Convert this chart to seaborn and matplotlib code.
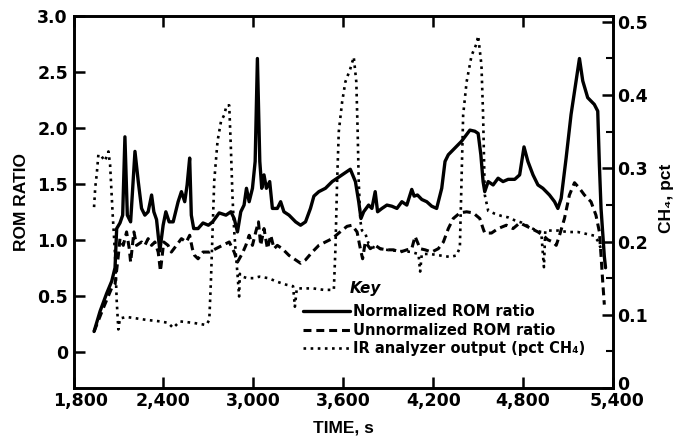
import matplotlib
matplotlib.use("Agg")
import matplotlib.pyplot as plt
import matplotlib.transforms as mtransforms
import seaborn as sns
import pandas as pd

# ---------------- data ----------------
norm_t = [1937, 1977, 2021, 2055, 2077, 2088, 2110, 2128, 2143, 2159, 2181, 2210, 2232, 2254,
          2276, 2298, 2321, 2336, 2354, 2376, 2398, 2416, 2438, 2465, 2498, 2520, 2542, 2558,
          2575, 2586, 2602, 2631, 2664, 2700, 2728, 2772, 2817, 2850, 2872, 2894, 2916, 2938,
          2954, 2972, 2994, 3012, 3027, 3043, 3056, 3071, 3087, 3109, 3127, 3160, 3182, 3204,
          3238, 3282, 3315, 3348, 3381, 3404, 3437, 3481, 3526, 3570, 3614, 3647, 3681, 3703,
          3718, 3736, 3769, 3791, 3813, 3829, 3858, 3891, 3924, 3958, 3991, 4024, 4057, 4073,
          4095, 4124, 4157, 4190, 4223, 4257, 4279, 4301, 4345, 4389, 4445, 4478, 4500, 4518,
          4533, 4544, 4567, 4600, 4633, 4666, 4700, 4744, 4777, 4806, 4832, 4866, 4899, 4932,
          4976, 5010, 5032, 5054, 5087, 5120, 5154, 5176, 5198, 5231, 5275, 5298, 5309, 5320,
          5331, 5342, 5350]
norm_v = [0.18, 0.36, 0.52, 0.63, 0.75, 1.10, 1.15, 1.22, 1.92, 1.22, 1.16, 1.79, 1.52, 1.28,
          1.22, 1.25, 1.40, 1.25, 1.18, 0.90, 1.13, 1.25, 1.16, 1.16, 1.34, 1.43, 1.34, 1.49,
          1.73, 1.22, 1.10, 1.10, 1.15, 1.13, 1.16, 1.24, 1.22, 1.25, 1.19, 1.07, 1.25, 1.31,
          1.46, 1.34, 1.46, 1.70, 2.62, 1.70, 1.46, 1.58, 1.46, 1.52, 1.28, 1.28, 1.34, 1.25,
          1.22, 1.16, 1.13, 1.16, 1.28, 1.39, 1.43, 1.46, 1.52, 1.56, 1.60, 1.63, 1.52, 1.34,
          1.19, 1.25, 1.31, 1.28, 1.43, 1.25, 1.28, 1.31, 1.30, 1.28, 1.34, 1.31, 1.45, 1.39,
          1.40, 1.36, 1.34, 1.30, 1.28, 1.46, 1.70, 1.76, 1.82, 1.88, 1.98, 1.97, 1.95, 1.76,
          1.52, 1.43, 1.52, 1.49, 1.55, 1.52, 1.54, 1.54, 1.58, 1.83, 1.70, 1.58, 1.49, 1.46,
          1.40, 1.34, 1.28, 1.37, 1.73, 2.12, 2.42, 2.62, 2.42, 2.27, 2.21, 2.15, 1.67, 1.28,
          1.07, 0.85, 0.75]

unnorm_t = [1937, 1999, 2055, 2077, 2099, 2110, 2132, 2154, 2172, 2181, 2203, 2221, 2254, 2276,
            2298, 2321, 2343, 2365, 2380, 2402, 2431, 2453, 2487, 2520, 2553, 2575, 2593, 2608,
            2631, 2664, 2708, 2750, 2794, 2839, 2872, 2894, 2927, 2950, 2972, 2994, 3016, 3034,
            3049, 3071, 3094, 3116, 3138, 3160, 3193, 3238, 3282, 3315, 3348, 3393, 3437, 3481,
            3526, 3570, 3625, 3658, 3692, 3714, 3729, 3747, 3780, 3813, 3847, 3891, 3935, 3980,
            4024, 4057, 4079, 4113, 4146, 4190, 4234, 4268, 4301, 4334, 4378, 4423, 4467, 4511,
            4533, 4544, 4589, 4633, 4688, 4733, 4777, 4810, 4855, 4899, 4932, 4965, 4999, 5021,
            5043, 5076, 5109, 5143, 5176, 5209, 5253, 5286, 5309, 5320, 5331, 5342]
unnorm_v = [0.18, 0.39, 0.57, 0.60, 0.86, 1.01, 0.95, 1.07, 0.92, 0.80, 1.07, 0.95, 0.98, 0.95,
            1.01, 0.95, 0.98, 0.89, 0.72, 0.98, 0.95, 0.89, 0.95, 1.01, 0.98, 1.04, 0.92, 0.86,
            0.83, 0.89, 0.89, 0.92, 0.95, 0.98, 0.89, 0.80, 0.88, 0.95, 1.04, 0.95, 1.07, 1.16,
            0.95, 1.10, 0.92, 1.04, 0.92, 0.95, 0.92, 0.86, 0.82, 0.79, 0.82, 0.89, 0.95, 0.98,
            1.01, 1.06, 1.12, 1.13, 1.07, 0.92, 0.83, 0.98, 0.92, 0.95, 0.92, 0.91, 0.91, 0.89,
            0.91, 0.92, 1.03, 0.92, 0.91, 0.89, 0.92, 0.98, 1.10, 1.19, 1.24, 1.25, 1.24, 1.19,
            1.10, 1.06, 1.06, 1.10, 1.13, 1.10, 1.15, 1.13, 1.10, 1.07, 1.04, 1.00, 0.98, 0.95,
            1.04, 1.19, 1.40, 1.51, 1.46, 1.40, 1.34, 1.22, 1.07, 0.86, 0.63, 0.42]

ir_t = [1937, 1945, 1955, 1966, 1988, 2010, 2033, 2044, 2061, 2077, 2088, 2099, 2110, 2154,
        2221, 2287, 2376, 2431, 2465, 2509, 2597, 2686, 2706, 2717, 2728, 2739, 2761, 2784,
        2806, 2821, 2839, 2850, 2861, 2872, 2883, 2894, 2905, 2910, 2927, 2960, 3000, 3040,
        3100, 3160, 3220, 3265, 3277, 3290, 3330, 3400, 3470, 3537, 3548, 3559, 3570, 3592,
        3614, 3647, 3670, 3687, 3696, 3703, 3714, 3725, 3747, 3769, 3802, 3847, 3913, 3980,
        4046, 4102, 4113, 4124, 4179, 4245, 4312, 4356, 4378, 4389, 4400, 4423, 4456, 4489,
        4500, 4522, 4533, 4540, 4544, 4567, 4611, 4655, 4700, 4744, 4788, 4843, 4888, 4921,
        4932, 4939, 4948, 4987, 5032, 5098, 5165, 5231, 5275, 5298, 5320]
ir_c = [0.247, 0.274, 0.292, 0.319, 0.316, 0.310, 0.323, 0.305, 0.238, 0.183, 0.120, 0.080,
        0.095, 0.097, 0.095, 0.093, 0.091, 0.089, 0.082, 0.091, 0.089, 0.086, 0.093, 0.147,
        0.215, 0.283, 0.337, 0.364, 0.373, 0.386, 0.386, 0.328, 0.260, 0.215, 0.183, 0.156,
        0.125, 0.156, 0.152, 0.150, 0.150, 0.152, 0.150, 0.145, 0.141, 0.139, 0.111, 0.136,
        0.136, 0.136, 0.134, 0.134, 0.192, 0.283, 0.350, 0.390, 0.418, 0.436, 0.452, 0.418,
        0.350, 0.283, 0.228, 0.215, 0.211, 0.197, 0.192, 0.190, 0.188, 0.187, 0.186, 0.183,
        0.159, 0.183, 0.183, 0.181, 0.179, 0.181, 0.192, 0.283, 0.373, 0.418, 0.454, 0.470,
        0.481, 0.441, 0.373, 0.305, 0.264, 0.242, 0.238, 0.235, 0.233, 0.229, 0.226, 0.220,
        0.215, 0.213, 0.183, 0.165, 0.215, 0.215, 0.215, 0.213, 0.213, 0.210, 0.208, 0.201,
        0.190]

x_ticks = [1800, 2400, 3000, 3600, 4200, 4800, 5400]
x_tick_labels = ["1,800", "2,400", "3,000", "3,600", "4,200", "4,800", "5,400"]
left_ticks = [0, 0.5, 1.0, 1.5, 2.0, 2.5, 3.0]
left_tick_labels = ["0", "0.5", "1.0", "1.5", "2.0", "2.5", "3.0"]
right_ticks = [0, 0.1, 0.2, 0.3, 0.4, 0.5]
right_tick_labels = ["0", "0.1", "0.2", "0.3", "0.4", "0.5"]
right_minor = [0.05, 0.15, 0.25, 0.35, 0.45]
series_labels = ["Normalized ROM ratio", "Unnormalized ROM ratio", "IR analyzer output (pct CH\u2084)"]

# ---------------- style ----------------
sns.set_theme(style="ticks")
plt.rcParams["font.family"] = ["DejaVu Sans"]
plt.rcParams["font.weight"] = "bold"
plt.rcParams["axes.linewidth"] = 1.9
plt.rcParams["text.color"] = "black"
plt.rcParams["axes.labelcolor"] = "black"
plt.rcParams["xtick.color"] = "black"
plt.rcParams["ytick.color"] = "black"

fig = plt.figure(figsize=(6.77, 4.36), dpi=100)
ax = fig.add_axes([0.1086, 0.1101, 0.7969, 0.8532])
ax2 = ax.twinx()

df_n = pd.DataFrame({"t": norm_t, "v": norm_v})
df_u = pd.DataFrame({"t": unnorm_t, "v": unnorm_v})
df_i = pd.DataFrame({"t": ir_t, "c": ir_c})

sns.lineplot(data=df_n, x="t", y="v", ax=ax, color="black", linewidth=2.4,
             estimator=None, label=series_labels[0], legend=False)
sns.lineplot(data=df_u, x="t", y="v", ax=ax, color="black", linewidth=2.2,
             estimator=None, label=series_labels[1], legend=False)
ax.lines[1].set_dashes((2.6, 1.6))
sns.lineplot(data=df_i, x="t", y="c", ax=ax2, color="black", linewidth=1.9,
             estimator=None, label=series_labels[2], legend=False)
ax2.lines[0].set_dashes((1.0, 1.7))

# axes limits and ticks
ax.set_xlim(1800, 5400)
ax.set_ylim(-0.325, 3.0)
ax2.set_ylim(0, 0.508)

ax.set_xticks(x_ticks)
ax.set_xticklabels(x_tick_labels)
ax.set_yticks(left_ticks)
ax.set_yticklabels(left_tick_labels)
ax2.set_yticks(right_ticks)
ax2.set_yticklabels(right_tick_labels)
ax2.set_yticks(right_minor, minor=True)

ax.tick_params(axis="x", direction="in", top=True, bottom=True, length=8, width=1.8,
               labelsize=12.5, pad=3, colors="black")
ax.tick_params(axis="y", direction="in", left=True, right=False, length=8, width=1.8,
               labelsize=12.5, pad=4, colors="black")
ax2.tick_params(axis="y", which="major", direction="in", length=8, width=1.8,
                labelsize=12.5, pad=3, colors="black")
ax2.tick_params(axis="y", which="minor", direction="in", length=5, width=1.5, colors="black")

for a in (ax, ax2):
    for s in a.spines.values():
        s.set_linewidth(1.9)
        s.set_color("black")

# nudge the corner labels as in the reference
def nudge(label, dx_px, dy_px):
    label.set_transform(label.get_transform() +
                        mtransforms.ScaledTranslation(dx_px / 100, dy_px / 100, fig.dpi_scale_trans))

xl = ax.get_xticklabels()
nudge(xl[0], 7, 0)
nudge(xl[-1], 4, 0)
nudge(ax2.get_yticklabels()[0], 0, 5)

# axis labels
lab_font = dict(family=["Liberation Sans", "DejaVu Sans"], weight="bold", size=12.5, color="black")
ax.set_xlabel("TIME, s", **lab_font)
ax.xaxis.label.set_va("center")
ax.xaxis.set_label_coords(0.5, -0.1075)
ax.set_ylabel("ROM RATIO", **lab_font)
ax.yaxis.label.set_va("center")
ax.yaxis.set_label_coords(-0.0964, 0.5)
ax2.set_ylabel("CH\u2084, pct", rotation=90, **lab_font)
ax2.yaxis.label.set_va("center")
ax2.yaxis.set_label_coords(1.100, 0.511)

# key / legend
ax2.text(0.5125, 0.2688, "Key", transform=ax2.transAxes, ha="left", va="center",
         fontsize=11, fontweight="bold", fontstyle="italic", color="black")
handles = [ax.lines[0], ax.lines[1], ax2.lines[0]]
leg = ax2.legend(handles, series_labels, loc="upper left", bbox_to_anchor=(0.4254, 0.2258),
                 frameon=False, fontsize=10.5, handlelength=3.2, handletextpad=0.25,
                 borderpad=0, borderaxespad=0, labelspacing=0.25)
for txt in leg.get_texts():
    txt.set_fontweight("bold")
    txt.set_color("black")

ax.grid(False)
ax2.grid(False)
fig.savefig("out.png", dpi=100)
